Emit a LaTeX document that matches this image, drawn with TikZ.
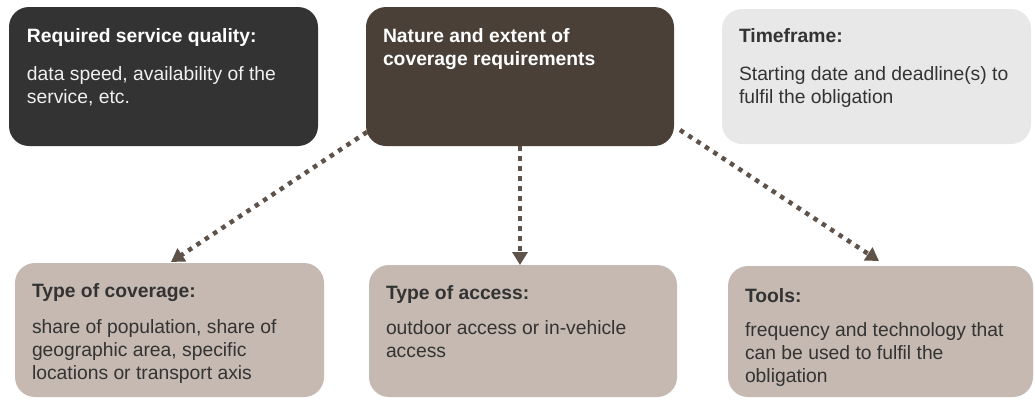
\documentclass[tikz,border=0pt]{standalone}
\usepackage{fontspec}
\setmainfont{Liberation Sans}
\usetikzlibrary{arrows.meta,calc}
\definecolor{cdark}{HTML}{333333}
\definecolor{cbrown}{HTML}{4A4038}
\definecolor{clight}{HTML}{E8E8E8}
\definecolor{ctaupe}{HTML}{C5B9B1}
\definecolor{carrow}{HTML}{5E5249}
\definecolor{ctext}{HTML}{333333}
\tikzset{
  rbox/.style={rectangle, rounded corners=20pt, draw=none, inner sep=0pt, outer sep=0pt, anchor=north west},
  txt/.style={anchor=north west, inner sep=0pt, outer sep=0pt, align=left, font=\fontsize{19.3}{23}\selectfont},
  hdr/.style={txt, font=\fontsize{19.3}{23}\selectfont\bfseries},
  conn/.style={carrow, line width=4.5pt, dash pattern=on 4.5pt off 5.5pt, -{Triangle[width=15pt,length=13pt]}}
}
\begin{document}
\begin{tikzpicture}[x=1pt,y=-1pt]
\useasboundingbox (0,0) rectangle (1035,399);
% boxes
\node[rbox, fill=cdark, minimum width=309pt, minimum height=139pt] (rsq) at (9,7) {};
\node[rbox, fill=cbrown, minimum width=308pt, minimum height=139pt] (nat) at (366,7) {};
\node[rbox, fill=clight, minimum width=309pt, minimum height=135pt] (tim) at (722,9) {};
\node[rbox, fill=ctaupe, minimum width=309pt, minimum height=134pt] (cov) at (15,263) {};
\node[rbox, fill=ctaupe, minimum width=308pt, minimum height=132pt] (acc) at (369,265) {};
\node[rbox, fill=ctaupe, minimum width=305pt, minimum height=131pt] (too) at (728,266) {};
% texts
\node[hdr, text=white] (rsqh) at ($(rsq.north west)+(18,19)$) {\strut Required service quality:};
\node[txt, text=white!94!black] (rsqb) at ($(rsq.north west)+(18,57)$) {\strut data speed, availability of the\\service, etc.};
\node[hdr, text=white] (nath) at ($(nat.north west)+(17,19)$) {\strut Nature and extent of\\coverage requirements};
\node[hdr, text=ctext] (timh) at ($(tim.north west)+(17,17)$) {\strut Timeframe:};
\node[txt, text=ctext] (timb) at ($(tim.north west)+(17,55)$) {\strut Starting date and deadline(s) to\\fulfil the obligation};
\node[hdr, text=ctext] (covh) at ($(cov.north west)+(17,18)$) {\strut Type of coverage:};
\node[txt, text=ctext] (covb) at ($(cov.north west)+(17,54)$) {\strut share of population, share of\\geographic area, specific\\locations or transport axis};
\node[hdr, text=ctext] (acch) at ($(acc.north west)+(17,18)$) {\strut Type of access:};
\node[txt, text=ctext] (accb) at ($(acc.north west)+(17,53)$) {\strut outdoor access or in-vehicle\\access};
\node[hdr, text=ctext] (tooh) at ($(too.north west)+(17,20)$) {\strut Tools:};
\node[txt, text=ctext] (toob) at ($(too.north west)+(17,54)$) {\strut frequency and technology that\\can be used to fulfil the\\obligation};
% connectors
\coordinate (l0) at ($(nat.south west)+(1,-14)$);
\coordinate (l1) at ($(cov.north west)+(156,-1)$);
\coordinate (r0) at ($(nat.south east)+(6,-16)$);
\coordinate (r1) at ($(too.north west)+(151,-5)$);
\draw[conn] (l0) -- (l1);
\draw[conn] (nat.south) -- (nat.south |- acc.north);
\draw[conn] (r0) -- (r1);
\end{tikzpicture}
\end{document}
